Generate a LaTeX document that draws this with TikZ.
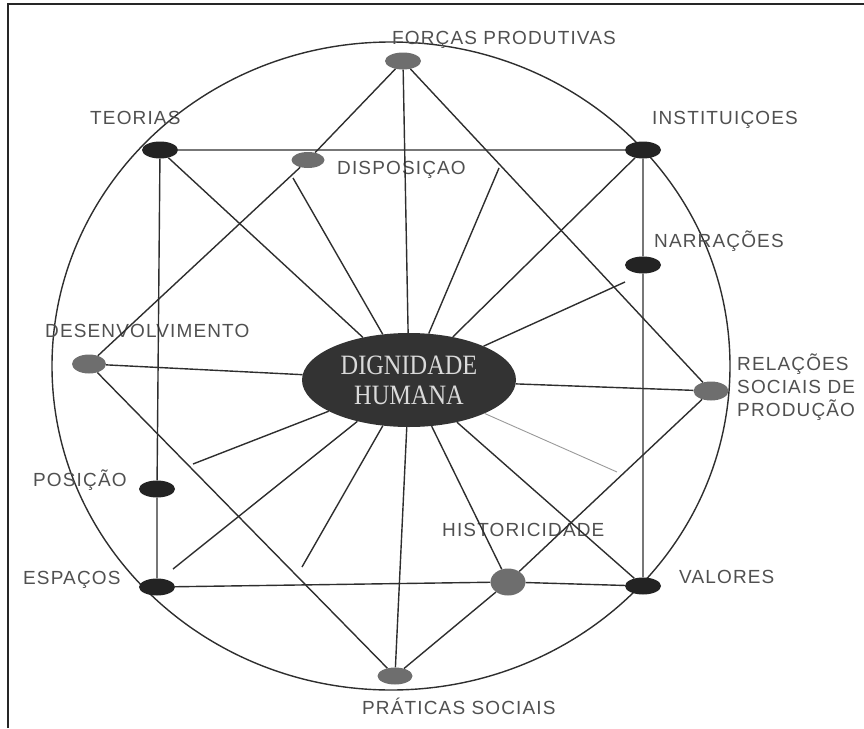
\documentclass[tikz,border=0pt]{standalone}
\usepackage{fontspec}
\setmainfont{Liberation Sans}
\newfontfamily\lblfont[LetterSpace=6]{Liberation Sans}
\newfontfamily\dhfont[FakeStretch=0.87]{Liberation Serif}
\usepackage{xcolor}
\usepackage{tikz}
\usetikzlibrary{shapes.geometric, positioning}

\definecolor{linegrey}{HTML}{2E2E2E}
\definecolor{lblgrey}{HTML}{505050}
\definecolor{dotdark}{HTML}{232323}
\definecolor{dotgrey}{HTML}{6E6E6E}
\definecolor{dhfill}{HTML}{333333}
\definecolor{dhtext}{HTML}{DADADA}

\begin{document}
\begin{tikzpicture}[
    x=1pt, y=-1pt,
    dot/.style={ellipse, minimum width=36pt, minimum height=17pt, inner sep=0pt},
    darkdot/.style={dot, fill=dotdark},
    greydot/.style={dot, fill=dotgrey},
    lbl/.style={font=\lblfont\fontsize{19}{23}\selectfont, text=lblgrey, inner sep=0pt, anchor=base west},
    link/.style={draw=linegrey, line width=1.4pt},
    faint/.style={draw=black!40, line width=0.9pt}
]
    \useasboundingbox (0,0) rectangle (864,728);

    % Frame and outer circle
    \draw[line width=1.8pt, draw=black!85] (8,728) -- (8,4) -- (864,4);
    \draw[link] (391,366) ellipse [x radius=339pt, y radius=324pt];

    % Centre
    \node[ellipse, fill=dhfill, minimum width=214pt, minimum height=94pt, inner sep=0pt,
          text=dhtext, align=center, font=\dhfont\fontsize{28}{30}\selectfont] (dh) at (409,380)
        {DIGNIDADE\\HUMANA};

    % Points
    \node[greydot] (forcas) at (403,61) {};
    \node[darkdot] (teorias) at (160,150) {};
    \node[greydot, minimum width=33pt, minimum height=16pt] (disp) at (308,160) {};
    \node[darkdot] (inst) at (643,150) {};
    \node[darkdot] (narr) at (643,265) {};
    \node[greydot, minimum width=34pt, minimum height=19pt] (desenv) at (89,364) {};
    \node[greydot, minimum width=35pt, minimum height=19pt] (rel) at (711,391) {};
    \node[darkdot] (pos) at (157,489) {};
    \node[darkdot] (esp) at (157,587) {};
    \node[greydot, minimum width=35pt, minimum height=27pt] (hist) at (508,582) {};
    \node[darkdot] (val) at (643,586) {};
    \node[greydot, minimum width=35pt] (prat) at (395,676) {};

    % Free ends of the short rays
    \coordinate (r1) at (293,178);
    \coordinate (r2) at (499,168);
    \coordinate (r3) at (625,282);
    \coordinate (r4) at (617,472);
    \coordinate (r5) at (302,567);
    \coordinate (r6) at (173,569);
    \coordinate (r7) at (193,464);

    % Labels
    \node[lbl] (lforcas) at (392,44) {FORÇAS PRODUTIVAS};
    \node[lbl] (lteorias) at (90,124) {TEORIAS};
    \node[lbl] (ldisp) at (337,174) {DISPOSIÇAO};
    \node[lbl] (linst) at (652,124) {INSTITUIÇOES};
    \node[lbl] (lnarr) at (654,247) {NARRAÇÕES};
    \node[lbl] (ldesenv) at (45,337) {DESENVOLVIMENTO};
    \node[lbl, anchor=west, align=left] (lrel) at (737,387) {RELAÇÕES\\SOCIAIS DE\\PRODUÇÃO};
    \node[lbl] (lpos) at (33,486) {POSIÇÃO};
    \node[lbl] (lesp) at (23,584) {ESPAÇOS};
    \node[lbl] (lhist) at (442,536) {HISTORICIDADE};
    \node[lbl] (lval) at (679,583) {VALORES};
    \node[lbl] (lprat) at (362,714) {PRÁTICAS SOCIAIS};

    % Square
    \draw[link] (teorias) -- (inst) -- (narr) -- (val) -- (hist) -- (esp) -- (pos) -- (teorias);

    % Cross lines
    \draw[link] (forcas) -- (disp) -- (desenv) -- (prat) -- (hist) -- (rel) -- (forcas);

    % Rays from the centre
    \draw[link] (dh) -- (forcas);
    \draw[link] (dh) -- (teorias);
    \draw[link] (dh) -- (inst);
    \draw[link] (dh) -- (desenv);
    \draw[link] (dh) -- (rel);
    \draw[link] (dh) -- (val);
    \draw[link] (dh) -- (hist);
    \draw[link] (dh) -- (prat);
    \foreach \r in {r1, r2, r3, r5, r6, r7}
        \draw[link] (dh) -- (\r);
    \draw[faint] (dh) -- (r4);
\end{tikzpicture}
\end{document}
